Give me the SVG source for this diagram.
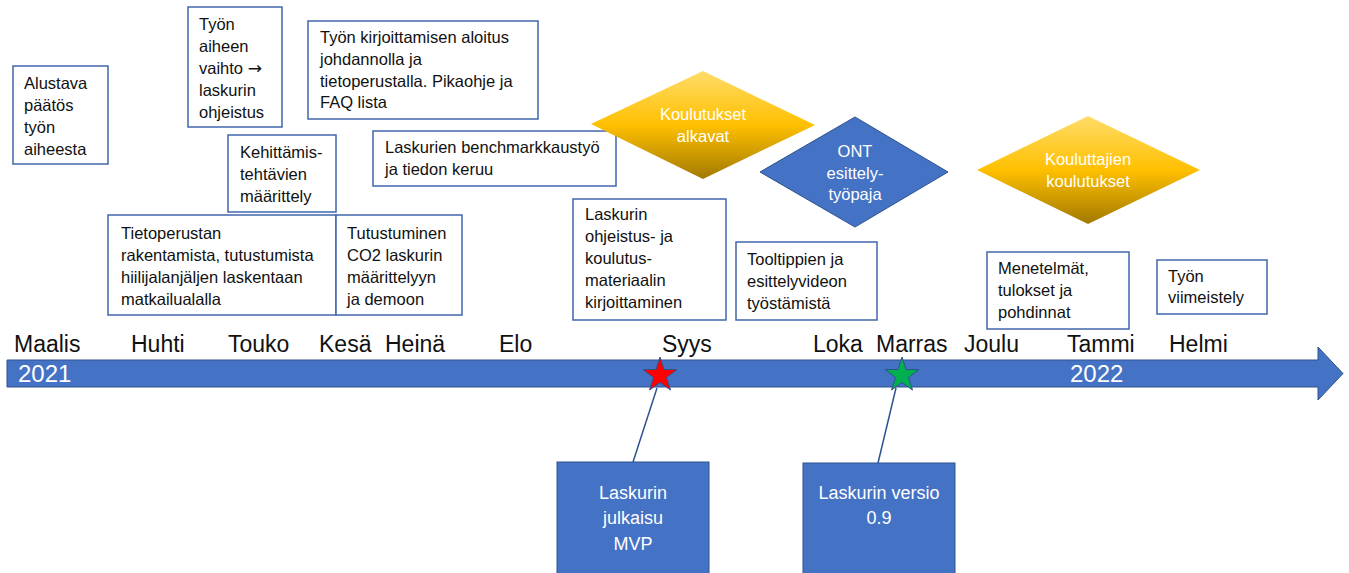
<svg xmlns="http://www.w3.org/2000/svg" width="1349" height="573" viewBox="0 0 1349 573">
<defs>
<linearGradient id="gold" x1="0" y1="0" x2="0" y2="1">
<stop offset="0" stop-color="#FFDC6A"/>
<stop offset="0.5" stop-color="#FFC000"/>
<stop offset="1" stop-color="#A27900"/>
</linearGradient>
<style>
text{font-family:"Liberation Sans",Arial,sans-serif}
.box{fill:#fff;stroke:#4066AC;stroke-width:1.5}
.t{font-size:16.5px;fill:#111}
.w{font-size:16.5px;fill:#fff}
.wb{font-size:18px;fill:#fff}
.m{font-size:23px;fill:#111}
.y{font-size:24px;fill:#fff}
.blue{fill:#4472C4;stroke:#2F528F;stroke-width:1}
.conn{stroke:#2F528F;stroke-width:1.5;fill:none}
.arr{font-family:"DejaVu Sans",sans-serif;font-size:17px}
</style>
</defs>
<rect width="1349" height="573" fill="#fff"/>

<g id="timeline">
<polygon class="blue" points="7,360 1318,360 1318,347 1343,373.5 1318,400 1318,387 7,387"/>
<text class="y" x="18" y="382">2021</text>
<text class="y" x="1070" y="382">2022</text>
<g class="m">
<text x="14" y="352">Maalis</text>
<text x="131" y="352">Huhti</text>
<text x="228" y="352">Touko</text>
<text x="319" y="352">Kesä</text>
<text x="385" y="352">Heinä</text>
<text x="499" y="352">Elo</text>
<text x="662" y="352">Syys</text>
<text x="813" y="352">Loka</text>
<text x="876" y="352">Marras</text>
<text x="964" y="352">Joulu</text>
<text x="1067" y="352">Tammi</text>
<text x="1169" y="352">Helmi</text>
</g>
</g>

<g id="connectors">
<line class="conn" x1="657" y1="388" x2="633" y2="462"/>
<line class="conn" x1="896" y1="388" x2="878" y2="463"/>
</g>

<g id="star-red">
<polygon points="660,357 664,369.5 677,369.5 666.5,377.5 670.5,390 660,382.5 649.5,390 653.5,377.5 643,369.5 656,369.5" fill="#FF0000" stroke="#2F528F" stroke-width="1"/>
</g>
<g id="star-green">
<polygon points="902,357 906,369.5 919,369.5 908.5,377.5 912.5,390 902,382.5 891.5,390 895.5,377.5 885,369.5 898,369.5" fill="#00B050" stroke="#2F528F" stroke-width="1"/>
</g>

<g id="n-alustava">
<rect class="box" x="13" y="66" width="95" height="98"/>
<text class="t" x="24" y="89">Alustava</text>
<text class="t" x="24" y="111">päätös</text>
<text class="t" x="24" y="133">työn</text>
<text class="t" x="24" y="155">aiheesta</text>
</g>

<g id="n-vaihto">
<rect class="box" x="188" y="7" width="94" height="120"/>
<text class="t" x="199" y="30">Työn</text>
<text class="t" x="199" y="52">aiheen</text>
<text class="t" x="199" y="74">vaihto <tspan class="arr">→</tspan></text>
<text class="t" x="199" y="96">laskurin</text>
<text class="t" x="199" y="118">ohjeistus</text>
</g>

<g id="n-kirjoittaminen">
<rect class="box" x="308" y="21" width="230" height="98"/>
<text class="t" x="320" y="43">Työn kirjoittamisen aloitus</text>
<text class="t" x="320" y="65">johdannolla ja</text>
<text class="t" x="320" y="87">tietoperustalla. Pikaohje ja</text>
<text class="t" x="320" y="108">FAQ lista</text>
</g>

<g id="n-benchmark">
<rect class="box" x="373" y="131" width="243" height="55"/>
<text class="t" x="385" y="153">Laskurien benchmarkkaustyö</text>
<text class="t" x="385" y="175">ja tiedon keruu</text>
</g>

<g id="n-kehittamis">
<rect class="box" x="228" y="135" width="108" height="77"/>
<text class="t" x="240" y="158">Kehittämis-</text>
<text class="t" x="240" y="180">tehtävien</text>
<text class="t" x="240" y="202">määrittely</text>
</g>

<g id="n-tietoperusta">
<rect class="box" x="108" y="215" width="228" height="100"/>
<text class="t" x="121" y="239">Tietoperustan</text>
<text class="t" x="121" y="261">rakentamista, tutustumista</text>
<text class="t" x="121" y="283">hiilijalanjäljen laskentaan</text>
<text class="t" x="121" y="305">matkailualalla</text>
</g>

<g id="n-tutustuminen">
<rect class="box" x="336" y="215" width="126" height="100"/>
<text class="t" x="347" y="239">Tutustuminen</text>
<text class="t" x="347" y="261">CO2 laskurin</text>
<text class="t" x="347" y="283">määrittelyyn</text>
<text class="t" x="347" y="305">ja demoon</text>
</g>

<g id="n-ohjeistus">
<rect class="box" x="573" y="199" width="153" height="121"/>
<text class="t" x="585" y="220">Laskurin</text>
<text class="t" x="585" y="242">ohjeistus- ja</text>
<text class="t" x="585" y="264">koulutus-</text>
<text class="t" x="585" y="286">materiaalin</text>
<text class="t" x="585" y="308">kirjoittaminen</text>
</g>

<g id="n-tooltip">
<rect class="box" x="736" y="242" width="141" height="78"/>
<text class="t" x="747" y="265">Tooltippien ja</text>
<text class="t" x="747" y="287">esittelyvideon</text>
<text class="t" x="747" y="309">työstämistä</text>
</g>

<g id="n-menetelmat">
<rect class="box" x="987" y="252" width="142" height="77"/>
<text class="t" x="998" y="274">Menetelmät,</text>
<text class="t" x="998" y="296">tulokset ja</text>
<text class="t" x="998" y="318">pohdinnat</text>
</g>

<g id="n-viimeistely">
<rect class="box" x="1157" y="260" width="110" height="54"/>
<text class="t" x="1168" y="282">Työn</text>
<text class="t" x="1168" y="303">viimeistely</text>
</g>

<g id="d-koulutukset">
<polygon points="591,124 703,71 815,125 703,179" fill="url(#gold)"/>
<text class="w" x="703" y="120" text-anchor="middle">Koulutukset</text>
<text class="w" x="703" y="142" text-anchor="middle">alkavat</text>
</g>

<g id="d-ont">
<polygon class="blue" points="760,172 855,117 948,172 855,227"/>
<text class="w" x="855" y="157" text-anchor="middle">ONT</text>
<text class="w" x="855" y="179" text-anchor="middle">esittely-</text>
<text class="w" x="855" y="200" text-anchor="middle">työpaja</text>
</g>

<g id="d-kouluttajien">
<polygon points="977,170 1088,116 1200,170 1088,224" fill="url(#gold)"/>
<text class="w" x="1088" y="165" text-anchor="middle">Kouluttajien</text>
<text class="w" x="1088" y="187" text-anchor="middle">koulutukset</text>
</g>

<g id="n-mvp">
<rect class="blue" x="557" y="462" width="152" height="120"/>
<text class="wb" x="633" y="499" text-anchor="middle">Laskurin</text>
<text class="wb" x="633" y="524" text-anchor="middle">julkaisu</text>
<text class="wb" x="633" y="550" text-anchor="middle">MVP</text>
</g>

<g id="n-versio">
<rect class="blue" x="803" y="463" width="152" height="120"/>
<text class="wb" x="879" y="499" text-anchor="middle">Laskurin versio</text>
<text class="wb" x="879" y="524" text-anchor="middle">0.9</text>
</g>
</svg>
